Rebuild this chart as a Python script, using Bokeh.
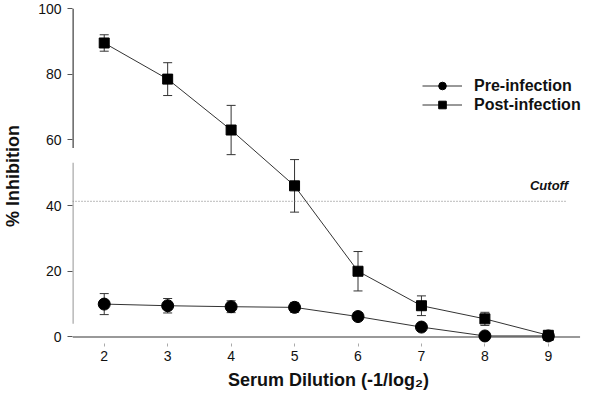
from bokeh.plotting import figure
from bokeh.models import (ColumnDataSource, Whisker, Label, Arrow, FixedTicker,
                          Legend, LegendItem, Title)
from bokeh.embed import file_html
from bokeh.resources import INLINE

dilution = [2, 3, 4, 5, 6, 7, 8, 9]
post_mean = [89.5, 78.5, 63.0, 46.0, 20.0, 9.5, 5.5, 0.5]
post_err = [2.5, 5.0, 7.5, 8.0, 6.0, 3.0, 2.0, 0.5]
pre_mean = [10.0, 9.5, 9.2, 9.0, 6.2, 3.0, 0.3, 0.3]
pre_err = [3.2, 2.2, 1.8, 1.5, 1.2, 0.6, 0.3, 0.3]
cutoff = 41.3
y_ticks = [0, 20, 40, 60, 80, 100]

FONT = "Liberation Sans"
LINE = "#333333"
X0, X1 = 1.50, 9.57

p = figure(width=584, height=393, output_backend="svg", toolbar_location=None,
           x_range=(X0, X1), y_range=(-2, 100),
           min_border_left=65, min_border_right=0, min_border_top=8,
           min_border_bottom=0)
p.outline_line_color = None
p.xgrid.visible = False
p.ygrid.visible = False
p.background_fill_color = "white"

def src(m, e):
    return ColumnDataSource(dict(x=dilution, y=m,
                                 lo=[a - b for a, b in zip(m, e)],
                                 hi=[a + b for a, b in zip(m, e)]))

post = src(post_mean, post_err)
pre = src(pre_mean, pre_err)

# axis lines: x axis at y = 0, broken y axis (scanned look)
p.segment(x0=[X0], y0=[0], x1=[9.5], y1=[0], line_color="#777777", line_width=1.5)
p.segment(x0=[X0, X0], y0=[57.5, 4], x1=[X0, X0], y1=[100, 53],
          line_color=["#444444", "#aaaaaa"], line_width=2.5)

for s in (post, pre):
    w = Whisker(source=s, base="x", lower="lo", upper="hi", line_color=LINE,
                line_width=1)
    w.upper_head.size = 9
    w.lower_head.size = 9
    w.upper_head.line_color = LINE
    w.lower_head.line_color = LINE
    p.add_layout(w)

# cutoff dotted line
p.add_layout(Arrow(end=None, x_start=X0, y_start=cutoff, x_end=9.28, y_end=cutoff,
                   line_color="#777777", line_width=1, line_dash="1 2"))
p.add_layout(Label(x=9.31, y=cutoff, text="Cutoff", text_align="right",
                   y_offset=8, text_font=FONT, text_font_size="13px",
                   text_font_style="bold italic", text_color="#111111"))

l1 = p.line("x", "y", source=pre, line_color=LINE, line_width=1)
m1 = p.scatter("x", "y", source=pre, marker="circle", size=12, fill_color="black",
               line_color="black")
l2 = p.line("x", "y", source=post, line_color=LINE, line_width=1)
m2 = p.scatter("x", "y", source=post, marker="square", size=10, fill_color="black",
               line_color="black")

legend = Legend(items=[LegendItem(label="Pre-infection", renderers=[l1, m1]),
                       LegendItem(label="Post-infection", renderers=[l2, m2])],
                location=(350, 229), padding=0, margin=0, spacing=0,
                glyph_width=40, glyph_height=19, label_height=19,
                label_standoff=12, border_line_alpha=0, background_fill_alpha=0,
                label_text_font=FONT, label_text_font_size="16px",
                label_text_font_style="bold", label_text_color="#111111")
p.add_layout(legend, "center")

xa = p.xaxis[0]
xa.ticker = FixedTicker(ticks=dilution)
xa.axis_line_color = None
ya = p.yaxis[0]
ya.ticker = FixedTicker(ticks=y_ticks)
ya.axis_label = "% Inhibition"
ya.axis_line_color = None

p.add_layout(Title(text="Serum Dilution (-1/log\u2082)", align="center",
                   text_font=FONT, text_font_size="18px", text_font_style="bold",
                   text_color="#111111", standoff=8), "below")

for ax in (xa, ya):
    ax.major_tick_line_color = "#555555"
    ax.minor_tick_line_color = None
    ax.major_tick_in = 0
    ax.major_label_text_font = FONT
    ax.major_label_text_font_size = "14px"
    ax.major_label_text_color = "#111111"
    ax.axis_label_text_font = FONT
    ax.axis_label_text_font_size = "18px"
    ax.axis_label_text_font_style = "bold"
    ax.axis_label_text_color = "#111111"
xa.major_tick_out = 3
xa.major_tick_line_color = "#aaaaaa"
ya.major_tick_out = 5
xa.major_label_standoff = 4
ya.major_label_standoff = 6
ya.axis_label_standoff = 12

open("out.html", "w").write(file_html(p, INLINE))
